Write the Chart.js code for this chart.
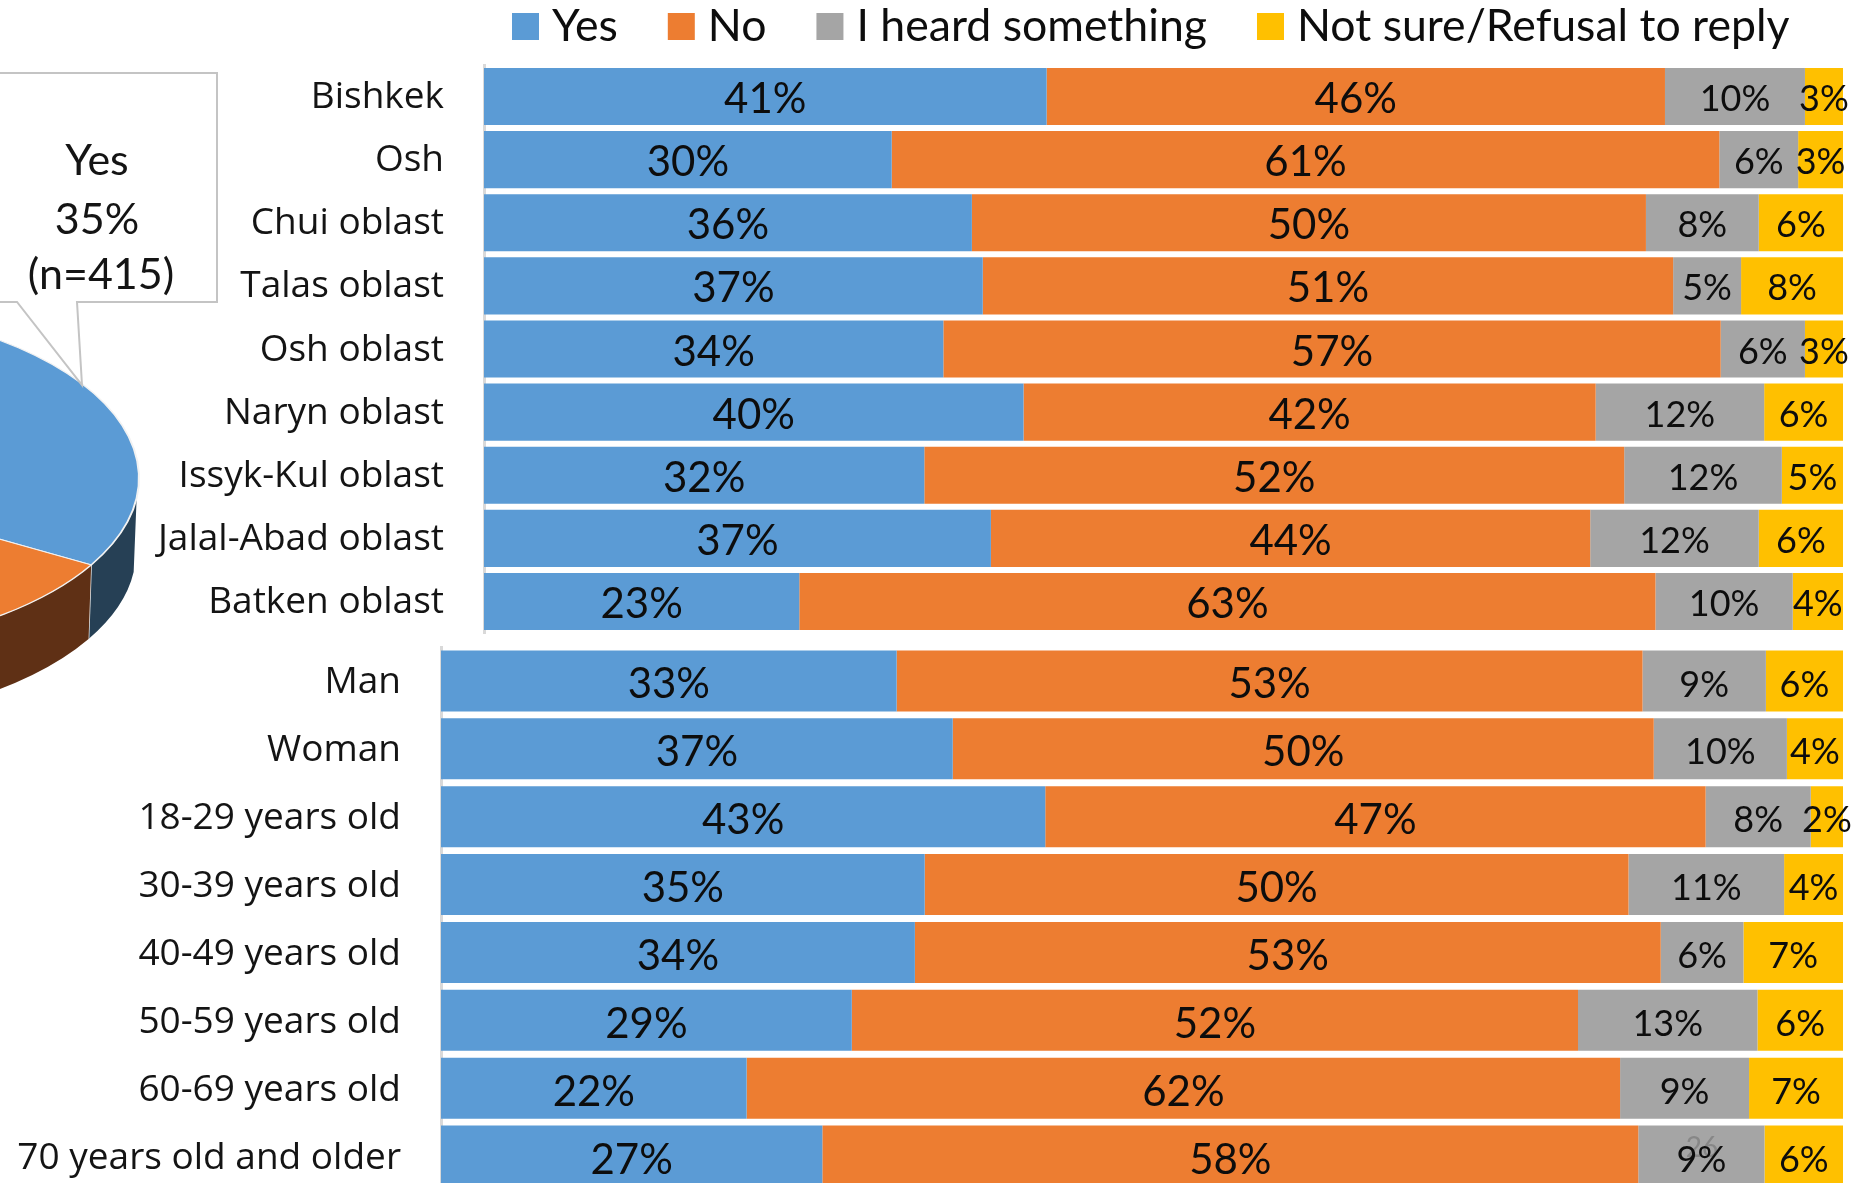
<!DOCTYPE html>
<html>
<head>
<meta charset="utf-8">
<title>Awareness survey by region and demographic group</title>
<script src="https://cdn.jsdelivr.net/npm/chart.js@4/dist/chart.umd.min.js"></script>
<style>
  html, body { margin: 0; padding: 0; background: #fff; width: 1869px; height: 1183px; overflow: hidden; }
  .box { position: absolute; }
</style>
</head>
<body>
<div class="box" style="left:-576px;top:0;width:900px;height:956px"><canvas id="pie"></canvas></div>
<div class="box" style="left:0;top:0;width:1869px;height:640px"><canvas id="regions"></canvas></div>
<div class="box" style="left:0;top:640px;width:1869px;height:555px"><canvas id="groups"></canvas></div>
<script>
const seriesNames = ['Yes', 'No', 'I heard something', 'Not sure/Refusal to reply'];
const seriesColors = ['#5b9bd5', '#ed7d31', '#a5a5a5', '#ffc000'];
const wallColors = ['#264055', '#5f3015', '#555555', '#7f6000'];

const regions = ['Bishkek', 'Osh', 'Chui oblast', 'Talas oblast', 'Osh oblast', 'Naryn oblast',
  'Issyk-Kul oblast', 'Jalal-Abad oblast', 'Batken oblast'];
const regionYes    = [41.4, 30.0, 35.9, 36.7, 33.8, 39.7, 32.4, 37.3, 23.2];
const regionNo     = [45.5, 60.9, 49.6, 50.8, 57.2, 42.1, 51.5, 44.1, 63.0];
const regionHeard  = [10.3,  5.8,  8.3,  5.0,  6.2, 12.4, 11.6, 12.4, 10.1];
const regionUnsure = [ 2.8,  3.3,  6.2,  7.5,  2.8,  5.8,  4.5,  6.2,  3.7];

const groups = ['Man', 'Woman', '18-29 years old', '30-39 years old', '40-49 years old',
  '50-59 years old', '60-69 years old', '70 years old and older'];
const groupYes    = [32.5, 36.5, 43.1, 34.5, 33.8, 29.3, 21.8, 27.2];
const groupNo     = [53.2, 50.0, 47.1, 50.2, 53.2, 51.8, 62.3, 58.2];
const groupHeard  = [ 8.8,  9.5,  7.5, 11.1,  5.9, 12.8,  9.2,  9.0];
const groupUnsure = [ 5.5,  4.0,  2.3,  4.2,  7.1,  6.1,  6.7,  5.6];

const overallShares = [35, 51, 9, 5];
const overallCount = 415;
const pageNumber = '26';

const LABEL_FONT = 'Lato';
const AXIS_FONT = '"Open Sans"';

// Rounded percentage centred on each bar segment; gray and yellow use a smaller size.
const segmentLabels = {
  id: 'segmentLabels',
  afterDatasetsDraw(chart) {
    const ctx = chart.ctx;
    const opt = chart.options.plugins.segmentLabels;
    ctx.save();
    ctx.textAlign = 'center';
    ctx.textBaseline = 'middle';
    if (opt.note) {
      ctx.fillStyle = '#878787';
      ctx.font = `28px ${LABEL_FONT}`;
      ctx.fillText(opt.note.text, opt.note.x, opt.note.y);
    }
    chart.data.datasets.forEach((ds, di) => {
      ctx.font = `${di < 2 ? 42 : 36}px ${LABEL_FONT}`;
      ctx.fillStyle = '#0d0d0d';
      chart.getDatasetMeta(di).data.forEach((bar, i) => {
        const p = bar.getProps(['x', 'y', 'base']);
        ctx.fillText(Math.round(ds.data[i]) + '%', (p.x + p.base) / 2, p.y + opt.dy);
      });
    });
    ctx.restore();
  }
};

// Key across the top of the regional chart.
const keyRow = {
  id: 'keyRow',
  afterDraw(chart) {
    const opt = chart.options.plugins.keyRow;
    if (!opt || !opt.show) return;
    const ctx = chart.ctx;
    ctx.save();
    ctx.font = `44.6px ${LABEL_FONT}`;
    ctx.textBaseline = 'middle';
    ctx.textAlign = 'left';
    let x = 512;
    chart.data.datasets.forEach(ds => {
      ctx.fillStyle = ds.backgroundColor;
      ctx.fillRect(x, 13, 27, 27);
      ctx.fillStyle = '#0d0d0d';
      ctx.fillText(ds.label, x + 40, 27);
      x += 40 + ctx.measureText(ds.label).width + 50;
    });
    ctx.restore();
  }
};

function stackedBars(id, labels, values, cfg) {
  return new Chart(document.getElementById(id), {
    type: 'bar',
    data: {
      labels,
      datasets: values.map((data, i) => ({
        label: seriesNames[i],
        data,
        backgroundColor: seriesColors[i],
        borderWidth: 0,
        categoryPercentage: 1,
        barPercentage: cfg.bar
      }))
    },
    plugins: [segmentLabels, keyRow],
    options: {
      indexAxis: 'y',
      responsive: true,
      maintainAspectRatio: false,
      animation: false,
      events: [],
      layout: { padding: { top: cfg.top, bottom: cfg.bottom, left: 0, right: 26 } },
      plugins: {
        legend: { display: false },
        tooltip: { enabled: false },
        keyRow: { show: cfg.key },
        segmentLabels: { note: cfg.note, dy: cfg.labelShift }
      },
      scales: {
        x: { stacked: true, min: 0, max: 100, display: false },
        y: {
          stacked: true,
          afterFit(scale) {
            scale.width = cfg.axisX;
            scale.paddingTop = 0;
            scale.paddingBottom = 0;
            // Category names sit slightly below the bar centres
            if (!scale.shiftedLabels) {
              scale.shiftedLabels = true;
              const drawLabels = scale.drawLabels;
              scale.drawLabels = function (area) {
                this.ctx.save();
                this.ctx.translate(0, cfg.tickShift);
                drawLabels.call(this, area);
                this.ctx.restore();
              };
            }
          },
          grid: { display: false, drawTicks: false },
          border: { display: true, color: '#d9d9d9', width: 3 },
          ticks: {
            color: '#141414',
            padding: cfg.tickGap,
            font: { family: AXIS_FONT, size: 37 }
          }
        }
      }
    }
  });
}

stackedBars('regions', regions, [regionYes, regionNo, regionHeard, regionUnsure],
  { bar: 0.905, top: 65, bottom: 7, axisX: 484, tickGap: 40, tickShift: 1, labelShift: 3, key: true });
stackedBars('groups', groups, [groupYes, groupNo, groupHeard, groupUnsure],
  { bar: 0.898, top: 7, bottom: 5, axisX: 441, tickGap: 40, tickShift: 2, labelShift: 4, key: false,
    note: { text: pageNumber, x: 1702, y: 508 } });

// Tilted pie: the library's arcs are squashed into an ellipse and given a front wall.
const TILT = 0.487;
const DEPTH = 74;
const tiltedPie = {
  id: 'tiltedPie',
  beforeDatasetsDraw(chart) {
    const ctx = chart.ctx;
    const arcs = chart.getDatasetMeta(0).data;
    const a0 = arcs[0].getProps(['x', 'y', 'outerRadius']);
    const rx = a0.outerRadius, ry = rx * TILT;
    ctx.save();
    arcs.forEach((arc, i) => {
      const p = arc.getProps(['startAngle', 'endAngle']);
      const from = Math.max(p.startAngle, 0.115);
      const to = Math.min(p.endAngle, Math.PI);
      if (to <= from) return;
      ctx.beginPath();
      ctx.ellipse(a0.x, a0.y, rx, ry, 0, from, to);
      ctx.ellipse(a0.x, a0.y + DEPTH, rx - 3, ry, 0, to, from, true);
      ctx.closePath();
      ctx.fillStyle = wallColors[i];
      ctx.fill();
      ctx.strokeStyle = '#e8e8e8';
      ctx.lineWidth = 1.5;
      ctx.beginPath();
      ctx.moveTo(a0.x + rx * Math.cos(to), a0.y + ry * Math.sin(to));
      ctx.lineTo(a0.x + (rx - 3) * Math.cos(to), a0.y + DEPTH + ry * Math.sin(to));
      ctx.stroke();
    });
    ctx.restore();
    ctx.save();
    ctx.translate(a0.x, a0.y);
    ctx.scale(1, TILT);
    ctx.translate(-a0.x, -a0.y);
  },
  afterDatasetsDraw(chart) {
    const ctx = chart.ctx;
    ctx.restore();
    // Callout for the "Yes" slice
    const off = 576;
    ctx.save();
    ctx.fillStyle = '#fff';
    ctx.strokeStyle = '#c4c4c4';
    ctx.lineWidth = 2;
    ctx.beginPath();
    ctx.moveTo(off - 10, 73);
    ctx.lineTo(off + 217, 73);
    ctx.lineTo(off + 217, 302);
    ctx.lineTo(off + 77, 302);
    ctx.lineTo(off + 82, 385);
    ctx.lineTo(off + 17, 302);
    ctx.lineTo(off - 10, 302);
    ctx.closePath();
    ctx.fill();
    ctx.stroke();
    ctx.fillStyle = '#141414';
    ctx.font = `43px ${LABEL_FONT}`;
    ctx.textAlign = 'center';
    ctx.textBaseline = 'middle';
    ctx.fillText(seriesNames[0], off + 97, 161);
    ctx.fillText(overallShares[0] + '%', off + 97, 220);
    ctx.fillText(`(n=${overallCount})`, off + 101, 275);
    ctx.restore();
  }
};

new Chart(document.getElementById('pie'), {
  type: 'pie',
  data: {
    labels: seriesNames,
    datasets: [{
      data: overallShares,
      backgroundColor: seriesColors,
      borderColor: '#f2f2f2',
      borderWidth: 2
    }]
  },
  plugins: [tiltedPie],
  options: {
    responsive: true,
    maintainAspectRatio: false,
    animation: false,
    events: [],
    rotation: -6,
    layout: { padding: { top: 120, bottom: 120, left: 0, right: 184 } },
    plugins: { legend: { display: false }, tooltip: { enabled: false } }
  }
});
</script>
</body>
</html>
